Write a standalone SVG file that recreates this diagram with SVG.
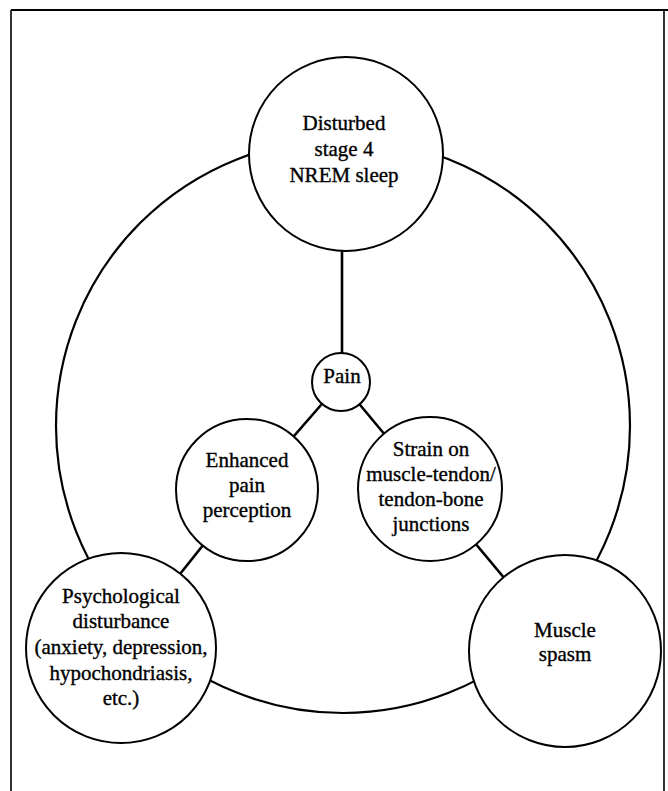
<svg xmlns="http://www.w3.org/2000/svg" width="668" height="791" viewBox="0 0 668 791">
<style>
.node{fill:#fff;stroke:#000;stroke-width:2}
.conn line{stroke:#000;stroke-width:2.6}
.ring{fill:none;stroke:#000;stroke-width:2.2}
text{font-family:"Liberation Serif","Times New Roman",serif;font-size:21px;fill:#000;stroke:#000;stroke-width:0.35;text-anchor:middle}
</style>
<rect width="668" height="791" fill="#fff"/>
<g id="frame" stroke="#000" fill="none">
<line x1="11" y1="10" x2="668" y2="10" stroke-width="2.2"/>
<line x1="11" y1="10" x2="11" y2="791" stroke-width="1.6"/>
<line x1="664" y1="10" x2="664" y2="791" stroke-width="1.6"/>
</g>
<g id="connectors" class="conn">
<circle class="ring" cx="343" cy="426" r="287"/>
<line x1="342" y1="250" x2="342" y2="355"/>
<line x1="341" y1="382" x2="247" y2="490"/>
<line x1="341" y1="382" x2="430" y2="489"/>
<line x1="247" y1="490" x2="121" y2="648"/>
<line x1="430" y1="489" x2="565" y2="651"/>
</g>
<g id="sleep">
<circle class="node" cx="346" cy="154" r="97"/>
<text x="344" y="130">Disturbed</text>
<text x="344" y="156">stage 4</text>
<text x="344" y="182">NREM sleep</text>
</g>
<g id="pain">
<circle class="node" cx="341" cy="382" r="29"/>
<text x="342" y="383">Pain</text>
</g>
<g id="enhanced">
<circle class="node" cx="247" cy="490" r="71"/>
<text x="247" y="467">Enhanced</text>
<text x="247" y="492">pain</text>
<text x="247" y="517">perception</text>
</g>
<g id="strain">
<circle class="node" cx="430" cy="489" r="72"/>
<text x="431" y="456">Strain on</text>
<text x="431" y="481">muscle-tendon/</text>
<text x="431" y="506">tendon-bone</text>
<text x="431" y="531">junctions</text>
</g>
<g id="psych">
<circle class="node" cx="121" cy="648" r="95"/>
<text x="121" y="603">Psychological</text>
<text x="121" y="628">disturbance</text>
<text x="121" y="654">(anxiety, depression,</text>
<text x="121" y="680">hypochondriasis,</text>
<text x="121" y="705">etc.)</text>
</g>
<g id="muscle">
<circle class="node" cx="565" cy="651" r="96"/>
<text x="565" y="637">Muscle</text>
<text x="565" y="661">spasm</text>
</g>
</svg>
